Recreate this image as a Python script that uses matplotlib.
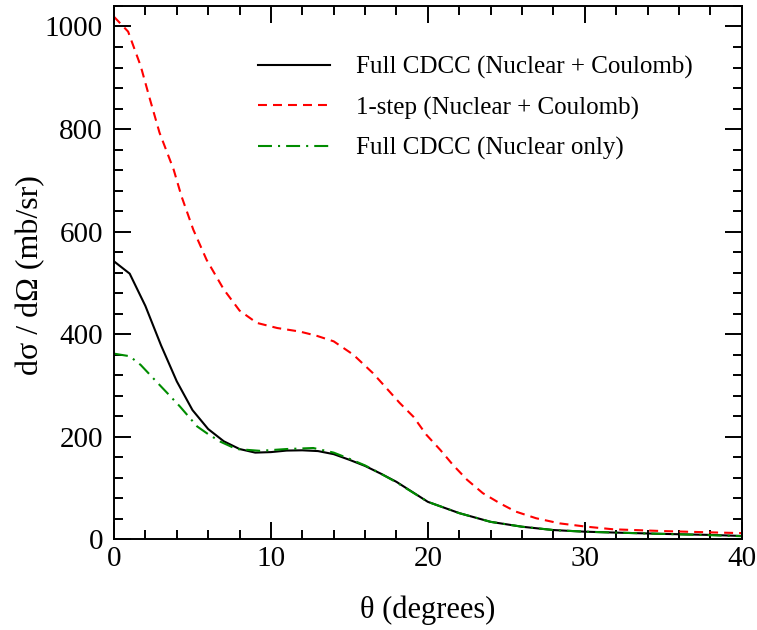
import matplotlib
matplotlib.use("Agg")
import matplotlib.pyplot as plt
from matplotlib.ticker import MultipleLocator

# Data
theta_full = [0, 1, 2, 3, 4, 5, 6, 7, 8, 9, 10, 11, 12, 13, 14, 15, 16, 17, 18,
              20, 22, 24, 26, 28, 30, 32, 35, 38, 40]
full_nc = [542, 518, 455, 378, 308, 252, 215, 191, 176, 169, 170, 173, 173.5, 172,
           166, 155, 143, 128, 112, 73, 51, 34, 24.5, 18, 14.8, 13, 10.5, 8.5, 6.5]

theta_onestep = [0, 0.9, 1.7, 2.3, 2.9, 3.8, 4.3, 5.05, 5.9, 7, 8, 9.1, 10.4, 11.85,
                 12.9, 14, 15.25, 16.5, 17.06, 18.2, 19.08, 19.9, 20.8, 21.6, 22.5,
                 23.5, 24.6, 25.6, 26.9, 28.4, 30.1, 31.8, 35, 38, 40]
onestep_nc = [1019, 990, 923, 857, 793, 721, 669, 604, 545, 487, 446, 422, 412, 405,
              397, 386, 360, 324, 305, 266, 239, 204, 174, 145, 116, 90, 70, 54, 41,
              31, 24.6, 19.5, 16, 13.5, 12]

theta_nuc = [0, 1, 1.7, 2.5, 3.4, 4.2, 5.3, 6, 6.8, 7.8, 9.3, 11, 12.7, 14, 15, 16,
             17, 18, 20, 22, 24, 26, 28, 30, 32, 35, 38, 40]
full_nuc = [362, 357, 340, 314, 285, 259, 220, 205, 190, 176, 172.5, 176, 178, 169,
            157, 144, 128, 111, 73, 51, 34, 24.5, 18, 14.8, 13, 10.5, 8, 6]

labels = ["Full CDCC (Nuclear + Coulomb)",
          "1-step (Nuclear + Coulomb)",
          "Full CDCC (Nuclear only)"]

plt.rcParams['font.family'] = ['Liberation Serif', 'DejaVu Serif']

fig = plt.figure(figsize=(7.57, 6.30), dpi=100)
ax = fig.add_axes([0.1506, 0.144, 0.8292, 0.8465])

ax.plot(theta_full, full_nc, color='black', lw=1.5, label=labels[0])
ax.plot(theta_onestep, onestep_nc, color='#ff0000', lw=1.5, dashes=(4.3, 2.9),
        label=labels[1])
ax.plot(theta_nuc, full_nuc, color='#008c00', lw=1.5, dashes=(6.7, 2.9, 1.0, 2.9),
        label=labels[2])

ax.set_xlim(0, 40)
ax.set_ylim(0, 1040)
ax.xaxis.set_major_locator(MultipleLocator(10))
ax.xaxis.set_minor_locator(MultipleLocator(2))
ax.yaxis.set_major_locator(MultipleLocator(200))
ax.yaxis.set_minor_locator(MultipleLocator(40))

ax.tick_params(which='both', direction='in', top=True, right=True, width=1.4,
               labelsize=21)
ax.tick_params(which='major', length=12.5)
ax.tick_params(which='minor', length=6.5)
ax.tick_params(axis='x', pad=5)
ax.tick_params(axis='y', pad=8)
for s in ax.spines.values():
    s.set_linewidth(1.4)

ax.set_xlabel("θ (degrees)", fontsize=22)
ax.set_ylabel("dσ / dΩ (mb/sr)", fontsize=23)
ax.xaxis.set_label_coords(0.5, -0.105)
ax.yaxis.set_label_coords(-0.109, 0.4956)

leg = ax.legend(loc='upper left', bbox_to_anchor=(0.2140, 0.925), frameon=False,
                fontsize=18, handlelength=2.85, handletextpad=1.05,
                labelspacing=0.70, borderaxespad=0)

fig.savefig("out.png", dpi=100)
